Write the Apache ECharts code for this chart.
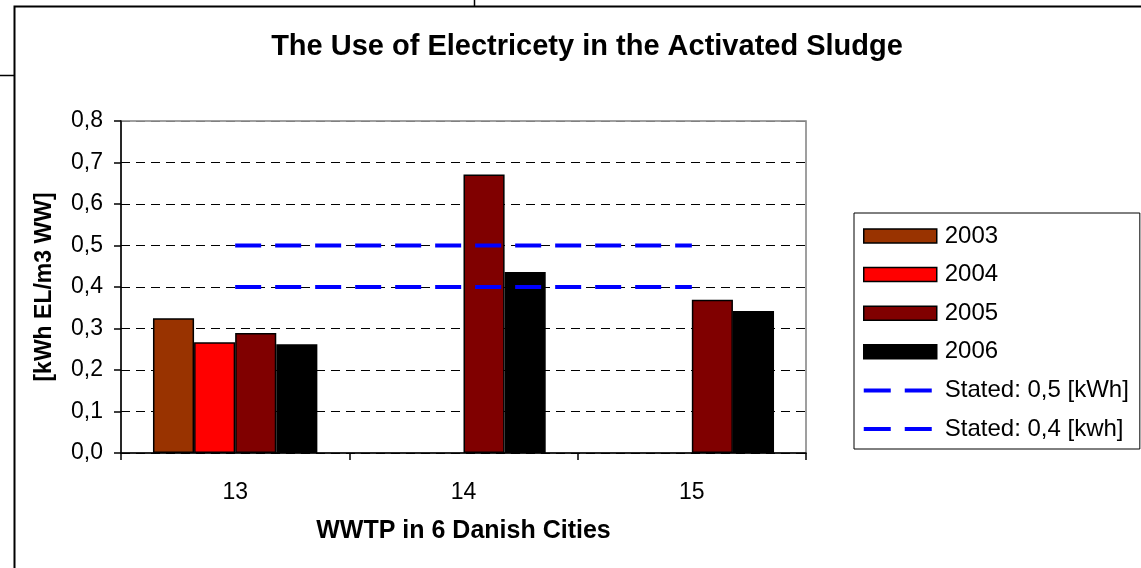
<!DOCTYPE html>
<html>
<head>
<meta charset="utf-8">
<script src="https://cdn.jsdelivr.net/npm/echarts@6/dist/echarts.min.js"></script>
<style>
  html, body { margin: 0; padding: 0; background: #fff; }
  #chart { width: 1141px; height: 568px; }
</style>
</head>
<body>
<div id="chart"></div>
<script>
// Plants (x-axis categories)
const plants = ['13', '14', '15'];

// Electricity use per year, kWh EL per m3 waste water (null = no value)
const y2003 = [0.325, null, null];
const y2004 = [0.267, null, null];
const y2005 = [0.289, 0.671, 0.369];
const y2006 = [0.262, 0.436, 0.342];

// Stated reference levels
const stated05 = [0.5, 0.5, 0.5];
const stated04 = [0.4, 0.4, 0.4];

// Y-axis tick range
const yMin = 0, yMax = 0.8, yStep = 0.1;

const FONT = '"Liberation Sans", Arial, sans-serif';

// Legend glyph for the dashed reference lines: two dashes, with tiny corner
// points so the path keeps the full item box when scaled.
const DASH_ICON = 'path://M0,0h0.01v0.01h-0.01z M73,14h-0.01v-0.01h0.01z M0,5h27v4H0z M41,5h27v4H41z';

const chart = echarts.init(document.getElementById('chart'), null, { renderer: 'canvas' });

function barSeries(name, data, color) {
  return {
    name, type: 'bar', data,
    barGap: '0%', barCategoryGap: '28%',
    itemStyle: { color, borderColor: '#000', borderWidth: 1.5 },
    z: 2
  };
}
function statedSeries(name, data) {
  return {
    name, type: 'line', data,
    symbol: 'none',
    lineStyle: { color: '#0000ff', width: 4, type: [26, 14] },
    itemStyle: { color: '#0000ff' },
    z: 5, silent: true
  };
}

// gridline colours: last one sits on the plot border
const gridColors = ['#000', '#000', '#000', '#000', '#000', '#000', '#000', '#000', '#808080'];

chart.setOption({
  animation: false,
  backgroundColor: '#fff',
  textStyle: { fontFamily: FONT },
  title: {
    text: 'The Use of Electricety in the Activated Sludge',
    left: 582, top: 27, textAlign: 'center',
    textStyle: { fontFamily: FONT, fontSize: 29, fontWeight: 'bold', color: '#000' }
  },
  legend: {
    orient: 'vertical',
    left: 854, top: 213,
    padding: [11, 11, 8, 9],
    backgroundColor: '#fff',
    borderColor: '#000', borderWidth: 1,
    itemWidth: 73, itemHeight: 14, itemGap: 14.6,
    itemStyle: { borderWidth: 1.5 },
    textStyle: { fontFamily: FONT, fontSize: 24, color: '#000', padding: [0, 0, 0, 3] },
    data: [
      { name: '2003', icon: 'rect' },
      { name: '2004', icon: 'rect' },
      { name: '2005', icon: 'rect' },
      { name: '2006', icon: 'rect' },
      { name: 'Stated: 0,5 [kWh]', icon: DASH_ICON, itemStyle: { borderWidth: 0, color: '#0000ff' } },
      { name: 'Stated: 0,4 [kwh]', icon: DASH_ICON, itemStyle: { borderWidth: 0, color: '#0000ff' } }
    ]
  },
  grid: {
    left: 121, right: 335, top: 121, bottom: 115,
    show: true, borderColor: '#808080', borderWidth: 1.5, backgroundColor: '#fff'
  },
  xAxis: {
    type: 'category', data: plants,
    name: 'WWTP in 6 Danish Cities',
    nameLocation: 'middle', nameGap: 66,
    nameTextStyle: { fontFamily: FONT, fontSize: 25, fontWeight: 'bold', color: '#000' },
    axisLine: { lineStyle: { color: '#000', width: 1.5 } },
    axisTick: { show: true, length: 7, lineStyle: { color: '#000', width: 1.5 } },
    axisLabel: { fontFamily: FONT, fontSize: 23, color: '#000', margin: 28 },
    splitLine: { show: false }
  },
  yAxis: {
    type: 'value', min: yMin, max: yMax, interval: yStep,
    name: '[kWh EL/m3 WW]',
    nameLocation: 'middle', nameGap: 65, nameRotate: 90,
    nameTextStyle: { fontFamily: FONT, fontSize: 23, fontWeight: 'bold', color: '#000' },
    axisLine: { show: true, lineStyle: { color: '#000', width: 1.5 } },
    axisTick: { show: true, length: 7, lineStyle: { color: '#000', width: 1.5 } },
    axisLabel: {
      fontFamily: FONT, fontSize: 23, color: '#000', margin: 18,
      formatter: v => v.toFixed(1).replace('.', ',')
    },
    splitLine: { show: true, lineStyle: { color: gridColors, width: 1.2, type: [9, 6] } }
  },
  series: [
    barSeries('2003', y2003, '#993300'),
    barSeries('2004', y2004, '#ff0000'),
    barSeries('2005', y2005, '#800000'),
    barSeries('2006', y2006, '#000000'),
    statedSeries('Stated: 0,5 [kWh]', stated05),
    statedSeries('Stated: 0,4 [kwh]', stated04)
  ],
  graphic: [
    { type: 'polyline', silent: true, z: 100,
      shape: { points: [[14.5, 568], [14.5, 6.5], [1141, 6.5]] },
      style: { stroke: '#000', lineWidth: 2, fill: null } },
    { type: 'line', silent: true, z: 100,
      shape: { x1: 0, y1: 75.5, x2: 14, y2: 75.5 },
      style: { stroke: '#000', lineWidth: 1.5 } },
    { type: 'line', silent: true, z: 100,
      shape: { x1: 474.5, y1: 0, x2: 474.5, y2: 6 },
      style: { stroke: '#000', lineWidth: 1.5 } }
  ]
});
</script>
</body>
</html>
